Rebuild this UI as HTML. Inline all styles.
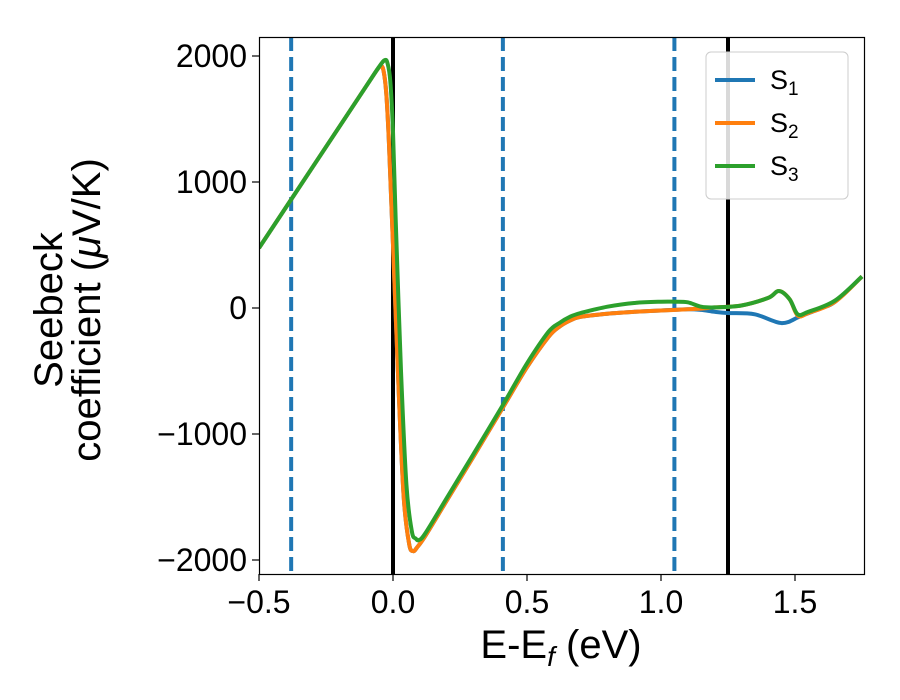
<!DOCTYPE html>
<html><head><meta charset="utf-8"><style>
body{margin:0;background:#fff;}
svg{display:block;font-family:"Liberation Sans","DejaVu Sans",sans-serif;}
</style></head><body>
<svg id="chart" width="900" height="700">
<rect width="900" height="700" fill="#fff"/>
<g id="vlines"></g>
<g id="series"></g>
<rect x="259.5" y="37.5" width="605" height="537" fill="none" stroke="#000" stroke-width="1.2"/>
<g id="xticks"></g>
<g id="yticks"></g>
<text x="561" y="658" text-anchor="middle" font-size="40">E-E<tspan font-style="italic" font-size="28" dy="8">f</tspan><tspan dy="-8"> (eV)</tspan></text>
<g transform="translate(62,310) rotate(-90)">
<text x="0" y="0" text-anchor="middle" font-size="40">Seebeck</text>
<text x="0" y="38" text-anchor="middle" font-size="40">coefficient  (<tspan font-style="italic">μ</tspan>V/K)</text>
</g>
<g>
<rect x="706" y="52" width="142" height="147" rx="5" fill="#fff" fill-opacity="0.85" stroke="#ccc"/>
<g id="legend-entries"></g>
</g>
</svg>
<script>
const sx = v => 393 + 268 * v;
const sy = v => 308 - 0.126 * v;
const xTicks = [-0.5, 0.0, 0.5, 1.0, 1.5];
const xTickLabels = ["\u22120.5", "0.0", "0.5", "1.0", "1.5"];
const yTicks = [2000, 1000, 0, -1000, -2000];
const yTickLabels = ["2000", "1000", "0", "\u22121000", "\u22122000"];
const dashedLines = [-0.38, 0.41, 1.05];
const solidLines = [0, 1.25];
const seriesNames = ["S1", "S2", "S3"];
const seriesColors = ["#1f77b4", "#ff7f0e", "#2ca02c"];
const s2x = [-0.5,-0.39,-0.2,-0.1,-0.06,-0.045,-0.035,-0.025,-0.015,0,0.02,0.04,0.06,0.075,0.09,0.12,0.2,0.3,0.41,0.5,0.58,0.62,0.66,0.7,0.8,0.9,1.0,1.1,1.15,1.2,1.3,1.4,1.44,1.48,1.51,1.55,1.65,1.75];
const s2y = [476,829,1439,1760,1888,1920,1880,1700,1300,500,-600,-1500,-1870,-1929,-1900,-1810,-1530,-1180,-790,-470,-230,-150,-100,-70,-45,-30,-20,-10,-5,5,20,80,135,70,-60,-40,50,250];
const s1x = [-0.5,-0.39,-0.2,-0.1,-0.06,-0.045,-0.035,-0.025,-0.015,0,0.02,0.04,0.06,0.075,0.09,0.12,0.2,0.3,0.41,0.5,0.58,0.62,0.66,0.7,0.8,0.9,1.0,1.1,1.15,1.2,1.25,1.35,1.45,1.52,1.6,1.65,1.75];
const s1y = [476,829,1439,1760,1888,1920,1880,1700,1300,500,-600,-1500,-1870,-1929,-1900,-1810,-1530,-1180,-790,-470,-230,-150,-100,-70,-45,-30,-20,-10,-15,-30,-40,-50,-120,-65,0,50,250];
const s3x = [-0.5,-0.39,-0.2,-0.1,-0.05,-0.03,-0.02,-0.01,0,0.01,0.03,0.05,0.07,0.085,0.097,0.12,0.2,0.3,0.41,0.5,0.58,0.62,0.66,0.7,0.8,0.9,1.0,1.05,1.1,1.15,1.2,1.3,1.4,1.44,1.48,1.51,1.55,1.65,1.75];
const s3y = [476,829,1439,1760,1920,1968,1940,1800,1400,700,-500,-1400,-1770,-1830,-1841,-1790,-1510,-1160,-770,-440,-190,-120,-70,-40,10,40,50,50,45,10,5,20,80,135,70,-50,-30,60,250];
const NS = "http://www.w3.org/2000/svg";
function mk(tag, attrs, parent){const e=document.createElementNS(NS,tag);for(const k in attrs)e.setAttribute(k,attrs[k]);parent.appendChild(e);return e;}
function pathFrom(xs, ys){
  const p = xs.map((x,i)=>[sx(x), sy(ys[i])]);
  let d = "M"+p[0][0]+","+p[0][1];
  for(let i=0;i<p.length-1;i++){
    const p0=p[Math.max(0,i-1)],p1=p[i],p2=p[i+1],p3=p[Math.min(p.length-1,i+2)];
    const t=0.3;
    const c1=[p1[0]+(p2[0]-p0[0])*t/1.8,p1[1]+(p2[1]-p0[1])*t/1.8];
    const c2=[p2[0]-(p3[0]-p1[0])*t/1.8,p2[1]-(p3[1]-p1[1])*t/1.8];
    d+=" C"+c1[0].toFixed(1)+","+c1[1].toFixed(1)+" "+c2[0].toFixed(1)+","+c2[1].toFixed(1)+" "+p2[0].toFixed(1)+","+p2[1].toFixed(1);
  }
  return d;
}
const vl = document.getElementById("vlines");
dashedLines.forEach(v=>{
  const l = mk("line",{x1:sx(v),x2:sx(v),y1:37,y2:574,stroke:"#1f77b4","stroke-width":4,"stroke-dasharray":"14,6"},vl);
  
  
});
solidLines.forEach(v=>{
  const l = mk("line",{x1:sx(v),x2:sx(v),y1:37,y2:574,stroke:"#000","stroke-width":4},vl);
  
  
});
const sg = document.getElementById("series");
const allX=[s1x,s2x,s3x], allY=[s1y,s2y,s3y];
const clip = mk("clipPath",{id:"pc"},sg); mk("rect",{x:259,y:37,width:605,height:537},clip);
for(let i=0;i<3;i++){
  const p = mk("path",{d:pathFrom(allX[i],allY[i]),fill:"none",stroke:seriesColors[i],"stroke-width":4,"clip-path":"url(#pc)","stroke-linejoin":"round"},sg);
  
  
}
const xt = document.getElementById("xticks");
xTicks.forEach((v,i)=>{
  mk("line",{x1:sx(v),x2:sx(v),y1:574,y2:581,stroke:"#000","stroke-width":1.2},xt);
  const t = mk("text",{x:sx(v),y:613,"text-anchor":"middle","font-size":32},xt);
  t.textContent = xTickLabels[i];
  
  
});
const yt = document.getElementById("yticks");
yTicks.forEach((v,i)=>{
  mk("line",{x1:252,x2:259,y1:sy(v),y2:sy(v),stroke:"#000","stroke-width":1.2},yt);
  const t = mk("text",{x:247,y:sy(v)+11,"text-anchor":"end","font-size":32},yt);
  t.textContent = yTickLabels[i];
  
  
});
const lg = document.getElementById("legend-entries");
for(let i=0;i<3;i++){
  const y = 80 + i*43;
  const l = mk("line",{x1:715,x2:755,y1:y,y2:y,stroke:seriesColors[i],"stroke-width":4},lg);
  
  
  const t = mk("text",{x:770,y:y+9,"font-size":27},lg);
  t.innerHTML = 'S<tspan font-size="19" dy="6">'+(i+1)+'</tspan>';
  
  
}
</script>
</body></html>
